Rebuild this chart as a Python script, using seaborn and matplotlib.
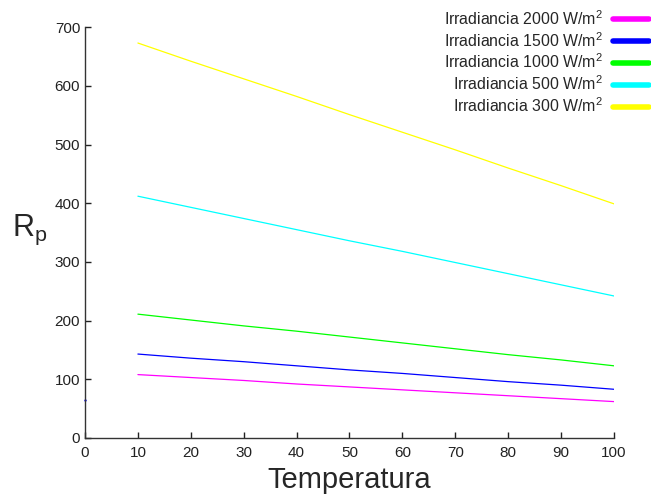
import pandas as pd
import matplotlib.pyplot as plt
import seaborn as sns

temperatura = [10, 20, 30, 40, 50, 60, 70, 80, 90, 100]
rp_2000 = [108, 103, 98, 92, 87, 82, 77, 72, 67, 62]
rp_1500 = [143, 136, 130, 123, 116, 110, 103, 96, 90, 83]
rp_1000 = [211, 201, 191, 182, 172, 162, 152, 142, 133, 123]
rp_500 = [412, 393, 374, 355, 336, 318, 299, 280, 261, 242]
rp_300 = [673, 642, 612, 582, 551, 521, 491, 460, 430, 399]
labels = ['Irradiancia 2000 W/m$^2$', 'Irradiancia 1500 W/m$^2$',
          'Irradiancia 1000 W/m$^2$', 'Irradiancia 500 W/m$^2$',
          'Irradiancia 300 W/m$^2$']
colors = ['#ff00ff', '#0000ff', '#00ff00', '#00ffff', '#ffff00']
stray_x = [0]
stray_y = [65]

series = [rp_2000, rp_1500, rp_1000, rp_500, rp_300]
df = pd.concat([pd.DataFrame({'T': temperatura, 'Rp': s, 'serie': lab})
                for s, lab in zip(series, labels)], ignore_index=True)

sns.set_style('ticks')
plt.rcParams['font.family'] = ['Liberation Sans', 'DejaVu Sans']
plt.rcParams['mathtext.fontset'] = 'custom'
plt.rcParams['mathtext.rm'] = 'Liberation Sans'

fig = plt.figure(figsize=(6.51, 4.94), dpi=100)
ax = fig.add_axes([0.1306, 0.1134, 0.8124, 0.8316])

sns.lineplot(data=df, x='T', y='Rp', hue='serie', palette=colors,
             hue_order=labels, linewidth=0.9, ax=ax, legend=True)
sns.scatterplot(x=stray_x, y=stray_y, color='#0000ff', s=3, linewidth=0,
                ax=ax, clip_on=False)

ax.set_xlim(0, 100)
ax.set_ylim(0, 700)
ax.set_xticks(range(0, 101, 10))
ax.set_yticks(range(0, 701, 100))
ax.tick_params(direction='in', length=4, width=1, labelsize=11, colors='#222222')
ax.tick_params(axis='x', pad=6)
sns.despine(ax=ax)
for sp in ['left', 'bottom']:
    ax.spines[sp].set_color('#333333')
    ax.spines[sp].set_linewidth(1)

ax.set_xlabel('Temperatura', fontsize=21, labelpad=4)
ax.set_ylabel('R$_\\mathregular{p}$', fontsize=22, rotation=0)
ax.yaxis.set_label_coords(-0.105, 0.465)

handles, labs = ax.get_legend_handles_labels()
for h in handles:
    h.set_linewidth(4)
leg = ax.legend(handles, labs, loc='upper right', bbox_to_anchor=(1.0, 0.985),
                bbox_transform=fig.transFigure, frameon=False, markerfirst=False,
                fontsize=11.4, handlelength=2.3, handletextpad=0.65,
                labelspacing=0.2, borderaxespad=0.0, borderpad=0.1)

fig.savefig('out.png', dpi=100)
